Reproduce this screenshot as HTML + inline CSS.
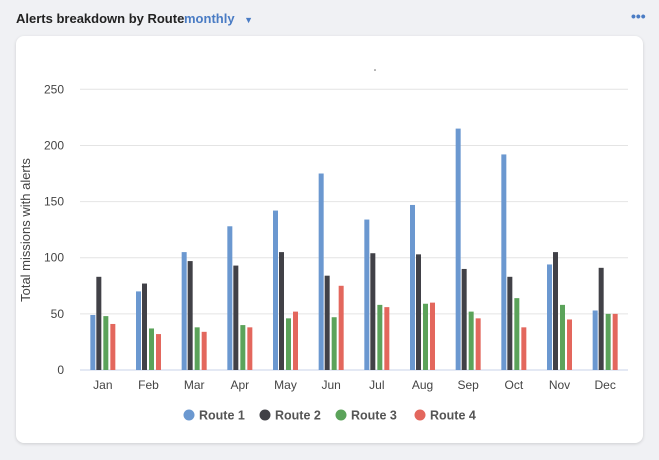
<!DOCTYPE html>
<html><head><meta charset="utf-8"><style>
body{margin:0;width:659px;height:460px;background:#f0f1f4;font-family:"Liberation Sans",sans-serif;position:relative;overflow:hidden}
.title{position:absolute;left:16px;top:11px;font-size:13px;font-weight:bold;color:#222}
.sel{position:absolute;left:184px;top:11px;font-size:13px;font-weight:bold;color:#4a7cc4}
.card{position:absolute;left:16px;top:36px;width:627px;height:407px;background:#fff;border-radius:8px;box-shadow:0 1px 3px rgba(0,0,0,.15)}
</style></head><body>
<div class="title">Alerts breakdown by Route</div>
<div class="sel">monthly <span style="font-size:9px;margin-left:6px">▼</span></div>
<div style="position:absolute;left:631px;top:8px;color:#4a7cc4;font-size:14px;font-weight:bold">•••</div>
<div class="card"></div>
<svg id="chart" width="659" height="460" style="position:absolute;left:0;top:0">
<text x="30" y="230" transform="rotate(-90 30 230)" text-anchor="middle" font-size="13" fill="#444">Total missions with alerts</text>
<circle cx="375" cy="70" r="0.8" fill="#666"/>
</svg>
<script>
const categories=["Jan","Feb","Mar","Apr","May","Jun","Jul","Aug","Sep","Oct","Nov","Dec"];
const route1=[49,70,105,128,142,175,134,147,215,192,94,53];
const route2=[83,77,97,93,105,84,104,103,90,83,105,91];
const route3=[48,37,38,40,46,47,58,59,52,64,58,50];
const route4=[41,32,34,38,52,75,56,60,46,38,45,50];
const yTicks=[0,50,100,150,200,250];
const seriesNames=["Route 1","Route 2","Route 3","Route 4"];
const colors=["#6b98d0","#414147","#5ba35a","#e3675d"];
const series=[route1,route2,route3,route4];
const svg=document.getElementById('chart');const NS="http://www.w3.org/2000/svg";
const x0=80,x1=628,yBase=370,yTop=89.3,yMax=250;
const y=v=>yBase-(v/yMax)*(yBase-yTop);
const bw=(x1-x0)/categories.length;
const xc=i=>x0+bw*(i+0.5);
const offs=[-10,-4,3,10];
function mk(t,a){const e=document.createElementNS(NS,t);for(const k in a)e.setAttribute(k,a[k]);svg.appendChild(e);return e;}
yTicks.forEach(t=>{
 const l=mk('line',{x1:x0,x2:x1,y1:y(t),y2:y(t),stroke:t===0?'#c9d3e8':'#e4e4e4','stroke-width':1});
 
 
 const tx=mk('text',{x:64,y:y(t)+4,'text-anchor':'end','font-size':12,fill:'#444'});tx.textContent=t;
 
 
});
categories.forEach((c,i)=>{
 const tx=mk('text',{x:xc(i),y:389,'text-anchor':'middle','font-size':12,fill:'#444'});tx.textContent=c;
 
 
 series.forEach((s,j)=>{
  const r=mk('rect',{x:xc(i)+offs[j]-2.5,y:y(s[i]),width:5,height:yBase-y(s[i]),fill:colors[j]});
  
  
 });
});
const lx=[189,265,341,420];
seriesNames.forEach((n,j)=>{
 const g=document.createElementNS(NS,'g');svg.appendChild(g);
 
 
 const c=document.createElementNS(NS,'circle');c.setAttribute('cx',lx[j]);c.setAttribute('cy',415);c.setAttribute('r',5.5);c.setAttribute('fill',colors[j]);g.appendChild(c);
 const t=document.createElementNS(NS,'text');t.setAttribute('x',lx[j]+10);t.setAttribute('y',419.5);t.setAttribute('font-size',12.5);t.setAttribute('font-weight','bold');t.setAttribute('fill','#555');t.textContent=n;g.appendChild(t);
});
</script>
</body></html>
